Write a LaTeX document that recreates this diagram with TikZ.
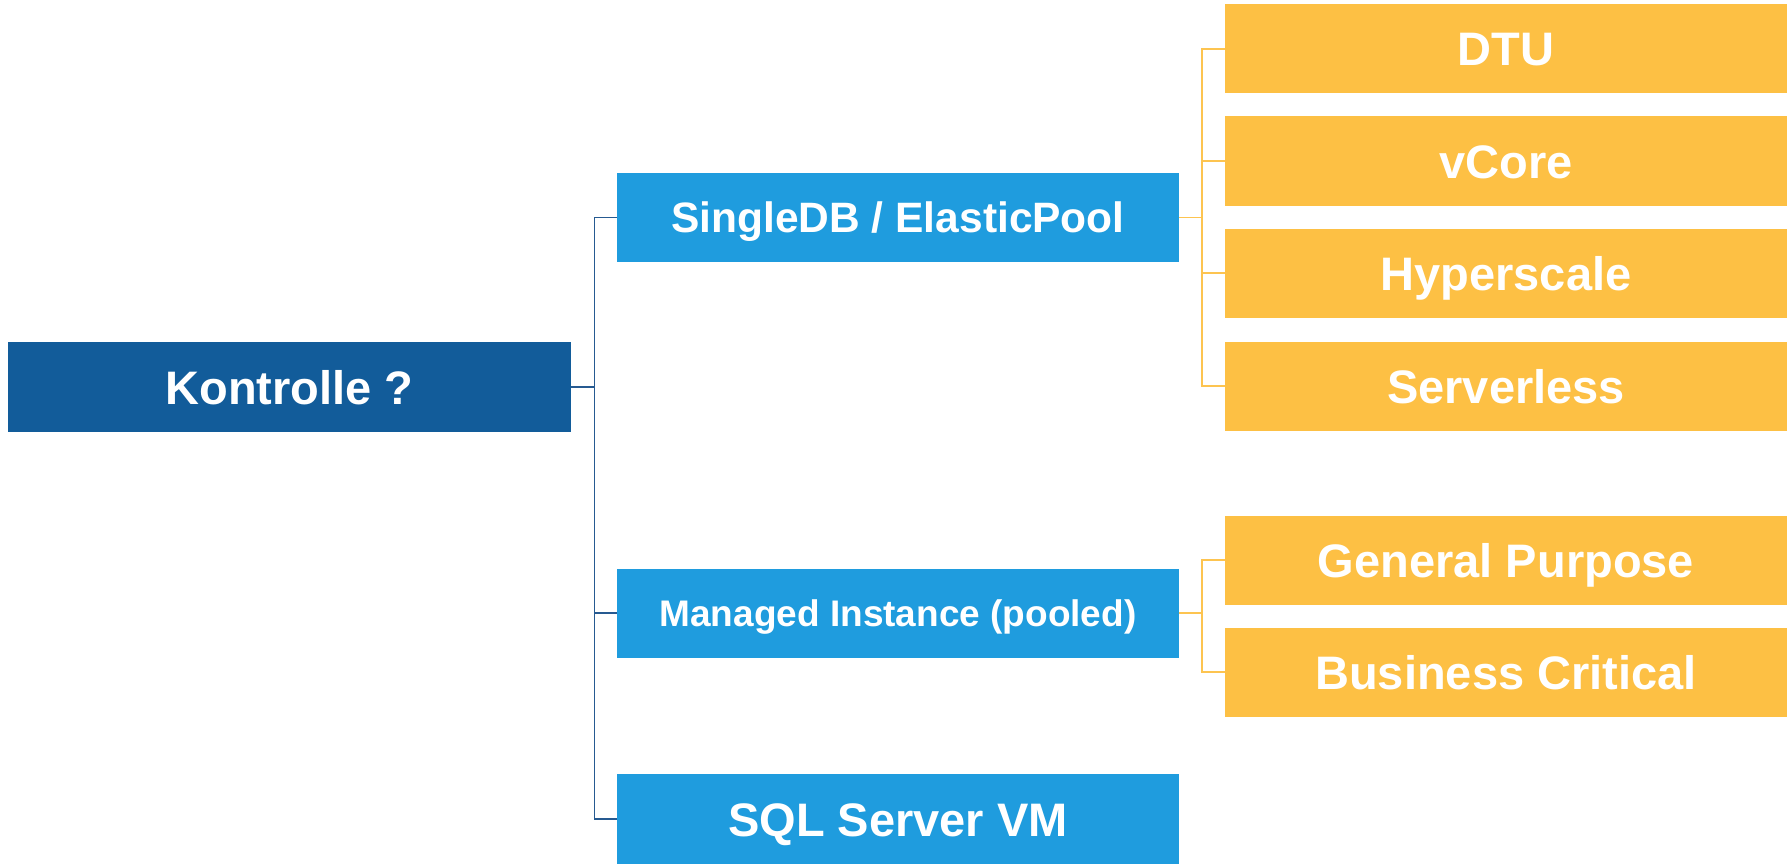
\documentclass[tikz,border=0pt]{standalone}
\usepackage{fontspec}
\setmainfont{Liberation Sans}
\definecolor{rootblue}{RGB}{18,92,154}
\definecolor{midblue}{RGB}{31,156,222}
\definecolor{leaforange}{RGB}{253,192,68}
\definecolor{lineblue}{RGB}{38,90,145}
\definecolor{lineorange}{RGB}{253,196,80}
\begin{document}
\begin{tikzpicture}[x=1pt,y=-1pt,
  box/.style={rectangle, inner sep=0pt, minimum width=562pt, minimum height=89pt,
    text height=34pt, text depth=0pt,
    text=white, font=\bfseries\fontsize{47}{56}\selectfont},
  rootbox/.style={box, fill=rootblue, minimum width=563pt, minimum height=90pt},
  midbox/.style={box, fill=midblue},
  leafbox/.style={box, fill=leaforange},
  blueconn/.style={draw=lineblue, line width=1.4pt},
  orangeconn/.style={draw=lineorange, line width=1.5pt}]
\useasboundingbox (0,0) rectangle (1787,864);
\fill[white] (0,0) rectangle (1787,864);
% root
\node[rootbox] (k) at (289.5,387) {Kontrolle ?};
% middle level
\node[midbox, text height=30.5pt, font=\bfseries\fontsize{42.5}{50}\selectfont] (sdb) at (898,217.5) {SingleDB / ElasticPool};
\node[midbox, text height=26.5pt, font=\bfseries\fontsize{37}{44}\selectfont] (mi) at (898,613) {Managed Instance (pooled)};
\node[midbox, minimum height=90pt] (vm) at (898,819) {SQL Server VM};
% leaves
\node[leafbox] (dtu) at (1506,49) {DTU};
\node[leafbox] (vc) at (1506,161) {vCore};
\node[leafbox] (hs) at (1506,273) {Hyperscale};
\node[leafbox] (sl) at (1506,386) {Serverless};
\node[leafbox] (gp) at (1506,560) {General Purpose};
\node[leafbox] (bc) at (1506,672) {Business Critical};
% blue connectors
\draw[blueconn] (k.east) -- ++(23,0) |- (sdb.west);
\draw[blueconn] (k.east) -- ++(23,0) |- (mi.west);
\draw[blueconn] (k.east) -- ++(23,0) |- (vm.west);
% orange connectors
\foreach \c in {dtu,vc,hs,sl}
  \draw[orangeconn] (sdb.east) -- ++(23,0) |- (\c.west);
\foreach \c in {gp,bc}
  \draw[orangeconn] (mi.east) -- ++(23,0) |- (\c.west);
\end{tikzpicture}
\end{document}
